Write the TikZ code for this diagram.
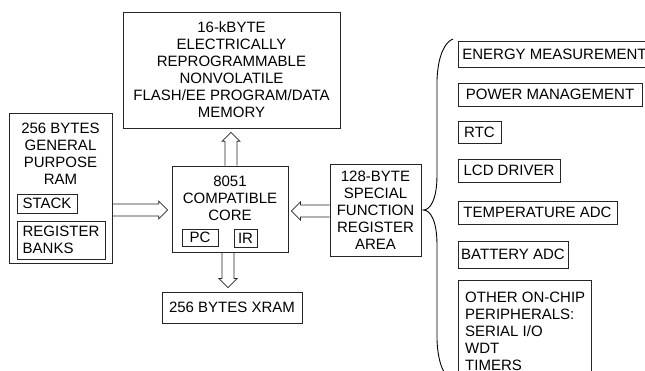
\documentclass[tikz,border=0pt]{standalone}
\usepackage{fontspec}
\setmainfont{Liberation Sans}
\usetikzlibrary{calc}
\tikzset{
 box/.style={draw=black!85, line width=0.75pt, inner sep=0pt, font=\fontsize{15}{17}\selectfont, align=center},
 lbl/.style={inner sep=0pt, font=\fontsize{15}{17}\selectfont, align=center},
 conn/.style={draw=black!85, line width=0.75pt, line join=miter},
 bracestyle/.style={draw=black, line width=0.9pt}
}
\newcommand{\hollowarrow}[2]{%
 \coordinate (hb) at ($(#2)!9pt!(#1)$);
 \draw[conn] ($(#1)!6pt!90:(#2)$) -- ($(hb)!6pt!90:(#2)$) -- ($(hb)!9pt!90:(#2)$) -- (#2) -- ($(hb)!9pt!-90:(#2)$) -- ($(hb)!6pt!-90:(#2)$) -- ($(#1)!6pt!-90:(#2)$);
}
\begin{document}
\begin{tikzpicture}[x=1pt,y=-1pt]
\useasboundingbox (0,0) rectangle (645,371);
\clip (0,0) rectangle (645,371);
\node[box, minimum width=217pt, minimum height=116pt] (flash) at (231.5,70) {16-kBYTE\\ELECTRICALLY\\REPROGRAMMABLE\\NONVOLATILE\\FLASH/EE PROGRAM/DATA\\MEMORY};
\node[box, minimum width=103pt, minimum height=150pt] (ram) at (60.5,188) {};
\node[lbl] (ramtext) at (60.5,153.5) {256 BYTES\\GENERAL\\PURPOSE\\RAM};
\node[box, minimum width=60pt, minimum height=19pt] (stack) at (47,203.5) {STACK};
\node[box, minimum width=88pt, minimum height=38pt, align=left] (banks) at (61,240) {REGISTER\\BANKS};
\node[box, minimum width=116pt, minimum height=86pt] (core) at (230,209) {};
\node[lbl] (coretext) at (230,198) {8051\\COMPATIBLE\\CORE};
\node[box, minimum width=36pt, minimum height=17pt] (pc) at (200,237.5) {PC};
\node[box, minimum width=23pt, minimum height=18pt] (ir) at (245.5,238) {IR};
\node[box, minimum width=91pt, minimum height=92pt] (sfr) at (375.5,210) {128-BYTE\\SPECIAL\\FUNCTION\\REGISTER\\AREA};
\node[box, minimum width=140pt, minimum height=31pt] (xram) at (232,307.5) {256 BYTES XRAM};
\node[box, anchor=north west, inner xsep=4pt, minimum height=26pt] (energy) at (458,41) {ENERGY MEASUREMENT};
\node[box, minimum width=184pt, minimum height=23pt] (power) at (550,94.5) {POWER MANAGEMENT};
\node[box, minimum width=43pt, minimum height=22pt] (rtc) at (479.5,132) {RTC};
\node[box, minimum width=102pt, minimum height=23pt] (lcd) at (509,170.5) {LCD DRIVER};
\node[box, minimum width=159pt, minimum height=23pt] (temp) at (537.5,212.5) {TEMPERATURE ADC};
\node[box, minimum width=110pt, minimum height=27pt] (batt) at (513,254.5) {BATTERY ADC};
\node[box, minimum width=133pt, minimum height=120pt, anchor=north west] (other) at (458,280) {};
\node[lbl, align=left, anchor=north west] (othertext) at (465,291.5) {OTHER ON-CHIP\\PERIPHERALS:\\SERIAL I/O\\WDT\\TIMERS};
% block arrows
\coordinate (a1s) at (ram.east |- 0,210);
\coordinate (a1e) at ($(core.west |- 0,210)+(-4,0)$);
\hollowarrow{a1s}{a1e}
\coordinate (a2s) at (sfr.west |- 0,211);
\coordinate (a2e) at ($(core.east |- 0,211)+(3,0)$);
\hollowarrow{a2s}{a2e}
\coordinate (a3s) at (231,0 |- core.north);
\coordinate (a3e) at ($(231,0 |- flash.south)+(0,4)$);
\hollowarrow{a3s}{a3e}
\coordinate (a4s) at (228,0 |- core.south);
\coordinate (a4e) at ($(228,0 |- xram.north)+(0,-4)$);
\hollowarrow{a4s}{a4e}
% brace
\coordinate (bt) at ($(sfr.east)+(2,0)$);
\draw[bracestyle] (453,39) .. controls (445,42) and (438,55) .. (437,80) -- (437,175) .. controls (437,200) and (430,210) .. (bt) .. controls (430,210) and (437,220) .. (437,245) -- (437,340) .. controls (438,365) and (445,378) .. (453,381);
\end{tikzpicture}
\end{document}
